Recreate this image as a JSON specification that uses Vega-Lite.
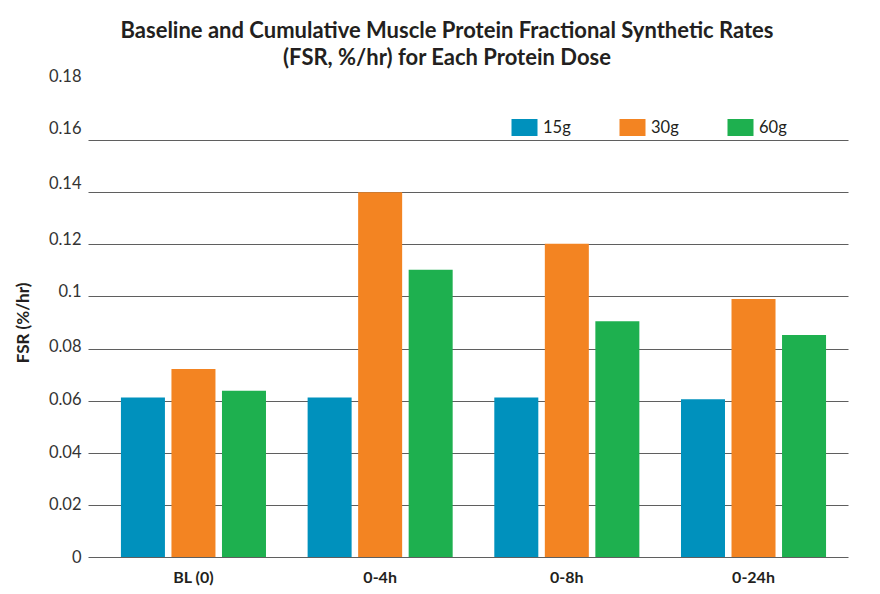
{
  "$schema": "https://vega.github.io/schema/vega-lite/v6.json",
  "autosize": {"type": "none"},
  "width": 760,
  "height": 469,
  "padding": {"left": 88, "top": 88, "right": 32, "bottom": 37},
  "background": "#ffffff",
  "title": {
    "text": ["Baseline and Cumulative Muscle Protein Fractional Synthetic Rates", "(FSR, %/hr) for Each Protein Dose"],
    "font": "Lato",
    "fontSize": 22,
    "fontWeight": "bold",
    "color": "#231f20",
    "lineHeight": 27,
    "anchor": "middle",
    "dx": -21,
    "offset": -2
  },
  "config": {
    "view": {"stroke": null},
    "font": "Lato"
  },
  "data": {
    "values": [
      {"period": "BL (0)", "dose": "15g", "fsr": 0.0612},
      {"period": "BL (0)", "dose": "30g", "fsr": 0.0722},
      {"period": "BL (0)", "dose": "60g", "fsr": 0.0638},
      {"period": "0-4h", "dose": "15g", "fsr": 0.0612},
      {"period": "0-4h", "dose": "30g", "fsr": 0.1400},
      {"period": "0-4h", "dose": "60g", "fsr": 0.1102},
      {"period": "0-8h", "dose": "15g", "fsr": 0.0612},
      {"period": "0-8h", "dose": "30g", "fsr": 0.1202},
      {"period": "0-8h", "dose": "60g", "fsr": 0.0905},
      {"period": "0-24h", "dose": "15g", "fsr": 0.0605},
      {"period": "0-24h", "dose": "30g", "fsr": 0.0990},
      {"period": "0-24h", "dose": "60g", "fsr": 0.0852}
    ]
  },
  "mark": {"type": "bar"},
  "encoding": {
    "x": {
      "field": "period",
      "type": "nominal",
      "sort": ["BL (0)", "0-4h", "0-8h", "0-24h"],
      "scale": {"paddingInner": 0.223, "paddingOuter": 0.147, "align": 0.6},
      "axis": {
        "title": null,
        "labelAngle": 0,
        "domain": false,
        "ticks": false,
        "labelFont": "Lato",
        "labelFontSize": 16,
        "labelFontWeight": "bold",
        "labelColor": "#231f20",
        "labelPadding": 12
      }
    },
    "xOffset": {
      "field": "dose",
      "type": "nominal",
      "scale": {"paddingInner": 0.129, "paddingOuter": 0}
    },
    "y": {
      "field": "fsr",
      "type": "quantitative",
      "scale": {"domain": [0, 0.18], "nice": false, "zero": true},
      "axis": {
        "title": "FSR (%/hr)",
        "titleFont": "Lato",
        "titleFontSize": 17,
        "titleFontWeight": "bold",
        "titleColor": "#231f20",
        "titlePadding": 16,
        "values": [0, 0.02, 0.04, 0.06, 0.08, 0.1, 0.12, 0.14, 0.16, 0.18],
        "labelExpr": "datum.value == 0 ? '0' : format(datum.value, '.2~f')",
        "labelFont": "Lato",
        "labelFontSize": 16.5,
        "labelColor": "#333333",
        "labelPadding": 7,
        "labelOffset": {
          "condition": [
            {"test": "datum.value >= 0.15", "value": -12},
            {"test": "datum.value >= 0.13", "value": -9},
            {"test": "datum.value >= 0.09", "value": -5},
            {"test": "datum.value >= 0.07", "value": -2},
            {"test": "datum.value >= 0.05", "value": -1}
          ],
          "value": 0
        },
        "domain": false,
        "ticks": false,
        "grid": true,
        "gridColor": "#5f5f5f",
        "gridWidth": 1,
        "gridOpacity": {"condition": {"test": "datum.value >= 0.18", "value": 0}, "value": 1}
      }
    },
    "color": {
      "field": "dose",
      "type": "nominal",
      "scale": {"domain": ["15g", "30g", "60g"], "range": ["#0091bd", "#f38422", "#1eb04f"]},
      "legend": {
        "title": null,
        "orient": "none",
        "direction": "horizontal",
        "legendX": 428,
        "legendY": 31,
        "symbolType": "M-1.53,-1H1.53V1H-1.53Z",
        "symbolSize": 289,
        "symbolStrokeWidth": 0,
        "symbolOpacity": 1,
        "labelFont": "Lato",
        "labelFontSize": 16.5,
        "labelColor": "#231f20",
        "labelOffset": 10,
        "columnPadding": 48
      }
    }
  }
}
